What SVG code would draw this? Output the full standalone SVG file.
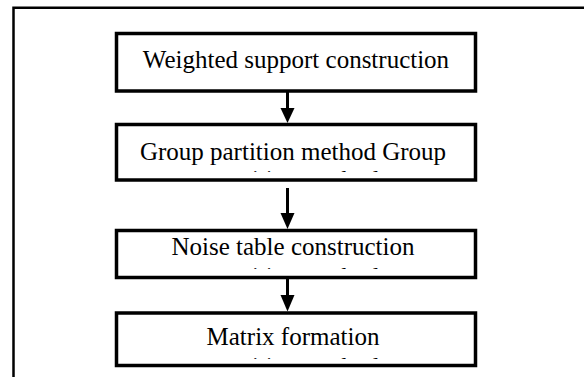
<svg xmlns="http://www.w3.org/2000/svg" width="584" height="377" viewBox="0 0 584 377">
<style>
.box{fill:#fff;stroke:#000;stroke-width:3.5}
.frame{fill:none;stroke:#000;stroke-width:2.5}
.lbl{font-family:"Liberation Serif","Times New Roman",serif;font-size:25px;fill:#000;text-anchor:middle}
.shaft{stroke:#000;stroke-width:3;fill:none}
.head{fill:#000}
</style>
<defs>
<clipPath id="c2"><rect x="118" y="126" width="356" height="46"/></clipPath>
<clipPath id="c3"><rect x="118" y="232" width="356" height="37"/></clipPath>
<clipPath id="c4"><rect x="118" y="315" width="356" height="44"/></clipPath>
</defs>
<rect width="584" height="377" fill="#fff"/>
<g id="frame">
<path class="frame" d="M13.5,377 V7.8 H584"/>
</g>
<g id="connectors">
<line class="shaft" x1="287.5" y1="92" x2="287.5" y2="109"/>
<polygon class="head" points="280.5,108 294.5,108 287.5,123"/>
<line class="shaft" x1="287.5" y1="188" x2="287.5" y2="214"/>
<polygon class="head" points="280.5,213 294.5,213 287.5,229"/>
<line class="shaft" x1="287.5" y1="279" x2="287.5" y2="296"/>
<polygon class="head" points="280.5,295 294.5,295 287.5,311.5"/>
</g>
<g id="node1">
<rect class="box" x="116.5" y="33.5" width="359" height="57.5"/>
<text class="lbl" x="296" y="68">Weighted support construction</text>
</g>
<g id="node2">
<rect class="box" x="116.5" y="124.5" width="359" height="55.5"/>
<text class="lbl" x="293" y="160">Group partition method Group</text>
<text class="lbl" x="296" y="187.5" clip-path="url(#c2)">partition method</text>
</g>
<g id="node3">
<rect class="box" x="116.5" y="230.5" width="359" height="47"/>
<text class="lbl" x="293" y="255">Noise table construction</text>
<text class="lbl" x="296" y="284.5" clip-path="url(#c3)">partition method</text>
</g>
<g id="node4">
<rect class="box" x="116.5" y="313" width="359" height="52.5"/>
<text class="lbl" x="293" y="345">Matrix formation</text>
<text class="lbl" x="296" y="374.5" clip-path="url(#c4)">partition method</text>
</g>
</svg>
